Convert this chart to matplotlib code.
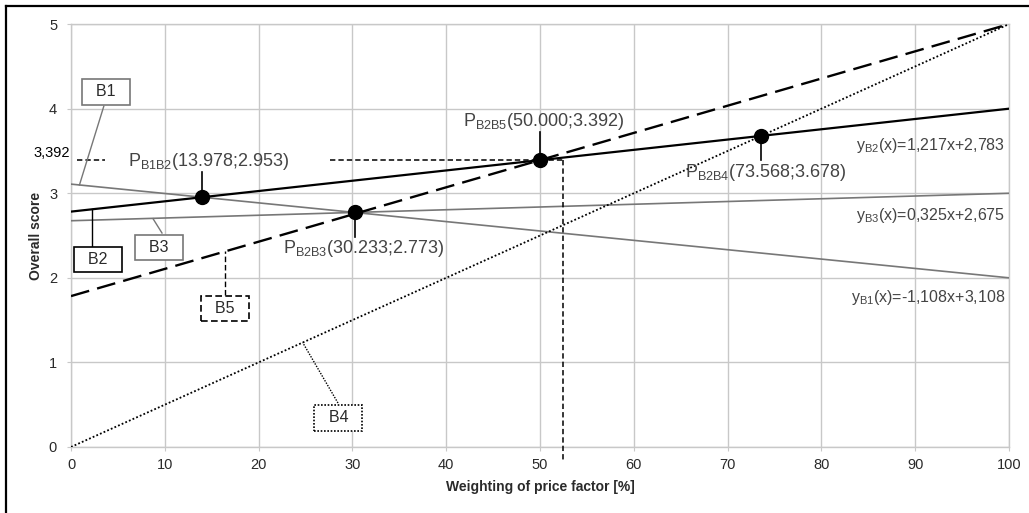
import matplotlib
matplotlib.use("Agg")
import matplotlib.pyplot as plt
from matplotlib.lines import Line2D

plt.rcParams['font.family'] = ['Liberation Sans', 'DejaVu Sans']
plt.rcParams['mathtext.fontset'] = 'custom'
plt.rcParams['mathtext.rm'] = 'Liberation Sans'
plt.rcParams['mathtext.it'] = 'Liberation Sans'
plt.rcParams['mathtext.bf'] = 'Liberation Sans:bold'

# ---- data ----
x_ends = [0, 100]
b1 = [3.108, 2.0]
b2 = [2.783, 4.0]
b3 = [2.675, 3.0]
b4 = [0.0, 5.0]
b5 = [1.784, 5.0]

pt_x = [13.978, 30.233, 50.0, 73.568]
pt_y = [2.953, 2.773, 3.392, 3.678]
pt_names = ["B1B2", "B2B3", "B2B5", "B2B4"]

eq_names = ["B2", "B3", "B1"]
eq_texts = ["=1,217x+2,783", "=0,325x+2,675", "=-1,108x+3,108"]

ref_y = 3.392
ref_label = "3,392"
ref_x = 52.45

xticks = [0, 10, 20, 30, 40, 50, 60, 70, 80, 90, 100]
yticks = [0, 1, 2, 3, 4, 5]
xlabel = "Weighting of price factor [%]"
ylabel = "Overall score"

# ---- figure ----
fig = plt.figure(figsize=(10.29, 5.13), dpi=100)
ax = fig.add_axes([0.069, 0.1287, 0.9116, 0.8243])

grid_c = "#c8c8c8"
txt_c = "#2a2a2a"
gray = "#777777"

ax.set_xlim(0, 100)
ax.set_ylim(0, 5)
ax.set_xticks(xticks)
ax.set_yticks(yticks)
ax.grid(True, color=grid_c, lw=1.0, zorder=0)
for s in ax.spines.values():
    s.set_color(grid_c)
    s.set_linewidth(1.0)
ax.tick_params(axis='x', length=3, color=grid_c, labelsize=10.5, labelcolor=txt_c, pad=5)
ax.tick_params(axis='y', length=3, color=grid_c, labelsize=10.5, labelcolor=txt_c, pad=7)
ax.set_xlabel(xlabel, fontsize=10, fontweight='bold', color=txt_c, labelpad=6)
ax.set_ylabel(ylabel, fontsize=10, fontweight='bold', color=txt_c, labelpad=4)

# lines
ax.plot(x_ends, b1, color=gray, lw=1.2, zorder=3)
ax.plot(x_ends, b3, color=gray, lw=1.2, zorder=3)
ax.plot(x_ends, b2, color="black", lw=1.6, zorder=4)
ax.plot(x_ends, b4, color="black", lw=1.3, ls=(0, (1, 1.2)), zorder=3)
ax.plot(x_ends, b5, color="black", lw=1.7, ls=(0, (8, 3.5)), zorder=4)

# reference dashed lines
ax.plot([27.6, ref_x], [ref_y, ref_y], color="black", lw=1.1, ls=(0, (3.5, 2)), zorder=5)
ax.plot([ref_x, ref_x], [ref_y, -0.15], color="black", lw=1.1, ls=(0, (3.5, 2)), zorder=5, clip_on=False)
ax.plot([0.6, 3.6], [ref_y, ref_y], color="black", lw=1.1, ls=(0, (3.5, 2)), zorder=5)
ax.text(-0.15, ref_y + 0.08, ref_label, ha='right', va='center', fontsize=10.5, color="black")

# intersection markers
ax.plot(pt_x, pt_y, 'o', color="black", ms=10, zorder=6)

# point labels and leaders
lab_pos = [(6.1, 3.38), (22.6, 2.35), (41.8, 3.85), (65.5, 3.24)]
lead_end = [3.25, 2.48, 3.72, 3.39]
for name, px, py, (tx, ty), le in zip(pt_names, pt_x, pt_y, lab_pos, lead_end):
    ax.plot([px, px], [py, le], color="black", lw=1.2, zorder=5)
    ax.text(tx, ty, "P$_{\\mathrm{" + name + "}}$(%.3f;%.3f)" % (px, py),
            ha='left', va='center', fontsize=13, color="#444444", zorder=7)

# equations
eq_y = [3.57, 2.74, 1.77]
for n, t, yy in zip(eq_names, eq_texts, eq_y):
    ax.text(99.6, yy, "y$_{\\mathrm{" + n + "}}$(x)" + t, ha='right', va='center',
            fontsize=11.5, color="#444444", zorder=7)

# series boxes with leaders
boxes = [
    ("B1", (3.73, 4.20), gray, '-', [(3.5, 4.03), (0.9, 3.098)]),
    ("B2", (2.88, 2.216), "black", '-', [(2.24, 2.376), (2.24, 2.81)]),
    ("B3", (9.38, 2.358), gray, '-', [(9.7, 2.53), (8.74, 2.70)]),
    ("B5", (16.42, 1.637), "black", (0, (4, 2)), [(16.42, 1.797), (16.42, 2.312)]),
    ("B4", (28.5, 0.343), "black", (0, (1, 1)), [(28.46, 0.52), (24.7, 1.235)]),
]
for lab, (bx, by), ec, ls, pts in boxes:
    ax.plot([pts[0][0], pts[1][0]], [pts[0][1], pts[1][1]], color=ec, lw=1.0, ls=ls, zorder=5)
    ax.text(bx, by, "  " + lab + "  ", ha='center', va='center', fontsize=11.5, color=txt_c, zorder=8,
            bbox=dict(boxstyle='square,pad=0.33', fc='white', ec=ec, lw=1.2, ls=ls))

# outer frame (left and top)
fig.add_artist(Line2D([0.0063, 0.0063], [0, 0.988], color="black", lw=1.6, transform=fig.transFigure))
fig.add_artist(Line2D([0.0063, 1.0], [0.988, 0.988], color="black", lw=1.6, transform=fig.transFigure))

fig.savefig("out.png", dpi=100, facecolor="white")
